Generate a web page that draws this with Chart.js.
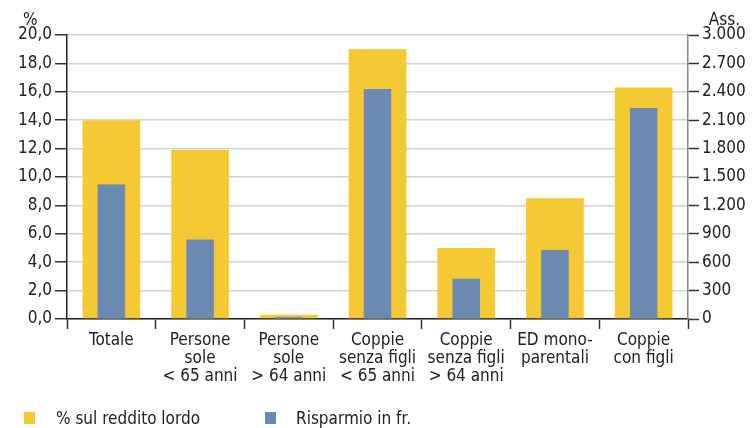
<!DOCTYPE html>
<html>
<head>
<meta charset="utf-8">
<script src="https://cdn.jsdelivr.net/npm/chart.js@4"></script>
<style>
  body { margin: 0; background: #fff; }
  #wrap { position: relative; width: 756px; height: 428px; }
  #legend { position: absolute; left: 0; top: 411px; width: 756px; height: 16px;
            font-family: 'Liberation Sans Narrow', 'DejaVu Sans Condensed', sans-serif;
            font-size: 17px; color: #222; }
  .item { position: absolute; top: 0; }
  .box { position: absolute; top: 1px; width: 11px; height: 12px; }
  .txt { position: absolute; top: -2px; white-space: nowrap; line-height: 18px; }
</style>
</head>
<body>
<div id="wrap">
  <canvas id="chart" width="756" height="428"></canvas>
  <div id="legend"></div>
</div>
<script>
const categories = [
    ['Totale'],
    ['Persone', 'sole', '< 65 anni'],
    ['Persone', 'sole', '> 64 anni'],
    ['Coppie', 'senza figli', '< 65 anni'],
    ['Coppie', 'senza figli', '> 64 anni'],
    ['ED mono-', 'parentali'],
    ['Coppie', 'con figli'],
];
const quota = [14.0, 11.9, 0.3, 19.0, 5.0, 8.5, 16.3];        // % sul reddito lordo
const risparmio = [1420, 840, 20, 2430, 425, 730, 2230];       // Risparmio in fr.
const seriesLabels = ['% sul reddito lordo', 'Risparmio in fr.'];

const FONT = "'Liberation Sans Narrow', 'DejaVu Sans Condensed', sans-serif";
const SIZE = 17;
const yellow = '#F5C934';
const blue = '#6A8AB2';

// "%" and "Ass." above the axes
const axisTitles = {
    id: 'axisTitles',
    afterDraw(chart) {
        const ctx = chart.ctx;
        ctx.save();
        ctx.font = SIZE + 'px ' + FONT;
        ctx.fillStyle = '#222';
        ctx.textBaseline = 'alphabetic';
        ctx.textAlign = 'left';
        ctx.fillText('%', 23, 25);
        ctx.textAlign = 'right';
        ctx.fillText('Ass.', 740, 25);
        ctx.restore();
    }
};

new Chart(document.getElementById('chart'), {
    type: 'bar',
    data: {
        labels: categories,
        datasets: [
            {
                label: seriesLabels[0],
                data: quota,
                yAxisID: 'y',
                backgroundColor: yellow,
                grouped: false,
                order: 1,
                categoryPercentage: 1,
                barPercentage: 0.65,
            },
            {
                label: seriesLabels[1],
                data: risparmio,
                yAxisID: 'y1',
                backgroundColor: blue,
                grouped: false,
                order: 0,
                categoryPercentage: 1,
                barPercentage: 0.31,
            }
        ]
    },
    options: {
        responsive: false,
        animation: false,
        layout: { padding: { top: 35, bottom: 39, left: 0, right: 0 } },
        plugins: { legend: { display: false }, tooltip: { enabled: false } },
        scales: {
            x: {
                afterFit: s => { s.height = 70; },
                grid: { offset: true, drawOnChartArea: false, tickLength: 10, tickColor: '#333', tickWidth: 1.5 },
                border: { color: '#222', width: 1.5 },
                ticks: { font: { family: FONT, size: SIZE, lineHeight: 1.04 }, color: '#222', padding: 3, maxRotation: 0, autoSkip: false }
            },
            y: {
                position: 'left',
                min: 0, max: 20,
                afterFit: s => { s.width = 67; },
                grid: { color: '#d2d2d2', lineWidth: 1.5, tickColor: '#333', tickLength: 12, tickWidth: 1.5 },
                border: { color: '#222', width: 1.5 },
                ticks: {
                    stepSize: 2, padding: 3, color: '#222',
                    font: { family: FONT, size: SIZE },
                    callback: v => v.toFixed(1).replace('.', ',')
                }
            },
            y1: {
                position: 'right',
                min: 0, max: 3000,
                afterFit: s => { s.width = 68; },
                grid: { drawOnChartArea: false, tickColor: '#333', tickLength: 11, tickWidth: 1.5 },
                border: { color: '#888', width: 1.5 },
                ticks: {
                    stepSize: 300, padding: 3, color: '#222',
                    font: { family: FONT, size: SIZE },
                    callback: v => String(v).replace(/\B(?=(\d{3})+(?!\d))/g, '.')
                }
            }
        }
    },
    plugins: [axisTitles]
});

// legend, built from the series
const legendPos = [[24, 56], [265, 296]];
const legend = document.getElementById('legend');
[yellow, blue].forEach((c, i) => {
    const item = document.createElement('div');
    item.className = 'item';
    item.innerHTML = '<span class="box" style="left:' + legendPos[i][0] + 'px;background:' + c + '"></span>' +
        '<span class="txt" style="left:' + legendPos[i][1] + 'px">' + seriesLabels[i] + '</span>';
    legend.appendChild(item);
});
</script>
</body>
</html>
